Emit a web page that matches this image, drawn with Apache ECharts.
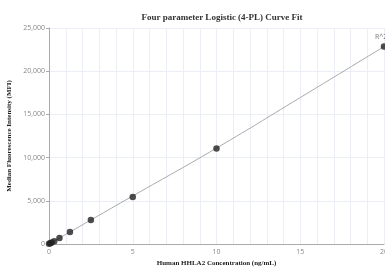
<!DOCTYPE html>
<html>
<head>
<meta charset="utf-8">
<script src="https://cdn.jsdelivr.net/npm/echarts@6/dist/echarts.min.js"></script>
<style>
  html, body { margin: 0; padding: 0; background: #fff; }
  #chart { width: 385px; height: 270px; }
</style>
</head>
<body>
<div id="chart"></div>
<script>
// measured standards
var concentrations = [0, 0.078, 0.156, 0.3125, 0.625, 1.25, 2.5, 5, 10, 20];
var mfiValues = [30, 90, 160, 320, 680, 1380, 2770, 5450, 11050, 22850];
// fitted curve
var fitX = [0, 2.5, 5, 10, 15, 20];
var fitY = [0, 2780, 5560, 11100, 16950, 22850];
var fitLabel = 'R^2 = 1';

var chart = echarts.init(document.getElementById('chart'));

var points = concentrations.map(function (c, i) { return [c, mfiValues[i]]; });
var curve = fitX.map(function (x, i) { return [x, fitY[i]]; });

var serif = '"Liberation Serif", "Times New Roman", serif';

chart.setOption({
  animation: false,
  title: {
    text: 'Four parameter Logistic (4-PL) Curve Fit',
    left: 217, top: 8, textAlign: 'center',
    textStyle: { fontFamily: serif, fontSize: 9, fontWeight: 'bold', color: '#333' }
  },
  grid: { left: 49, right: 1, top: 28, bottom: 26, outerBoundsMode: 'none', containLabel: false },
  xAxis: {
    type: 'value', min: 0, max: 20, interval: 1,
    name: 'Human HHLA2 Concentration (ng/mL)',
    nameLocation: 'middle', nameGap: 15,
    nameTextStyle: { fontFamily: serif, fontSize: 7, fontWeight: 'bold', color: '#222' },
    axisLine: { lineStyle: { color: '#aaa' } },
    axisTick: { show: false },
    axisLabel: {
      fontSize: 7, color: '#888', fontFamily: 'Open Sans', margin: 4,
      formatter: function (v) { return v % 5 === 0 ? v : ''; }
    },
    splitLine: { lineStyle: { color: '#eceef6' } }
  },
  yAxis: {
    type: 'value', min: 0, max: 25000, interval: 5000,
    name: 'Median Fluorescence Intensity (MFI)',
    nameLocation: 'middle', nameGap: 34,
    nameTextStyle: { fontFamily: serif, fontSize: 7, fontWeight: 'bold', color: '#222' },
    axisLine: { show: true, lineStyle: { color: '#aaa' } },
    axisTick: { show: true, length: 3, lineStyle: { color: '#aaa' } },
    axisLabel: {
      fontSize: 7, color: '#888', fontFamily: 'Open Sans', margin: 4,
      formatter: function (v) { return v.toLocaleString('en-US'); }
    },
    splitLine: { lineStyle: { color: '#eceef6' } }
  },
  series: [
    {
      type: 'line', data: curve, smooth: true, symbol: 'none',
      lineStyle: { color: '#aaa', width: 1 }, z: 1,
      markPoint: {
        symbol: 'circle', symbolSize: 0,
        data: [{ coord: [fitX[fitX.length - 1], fitY[fitY.length - 1]], value: fitLabel }],
        label: { show: true, formatter: fitLabel, position: 'top', align: 'left',
          offset: [-9, -1], color: '#777', fontSize: 7, fontFamily: 'Open Sans' }
      }
    },
    {
      type: 'scatter', data: points, symbolSize: 6.5,
      itemStyle: { color: '#222' }, z: 2
    }
  ]
});
</script>
</body>
</html>
